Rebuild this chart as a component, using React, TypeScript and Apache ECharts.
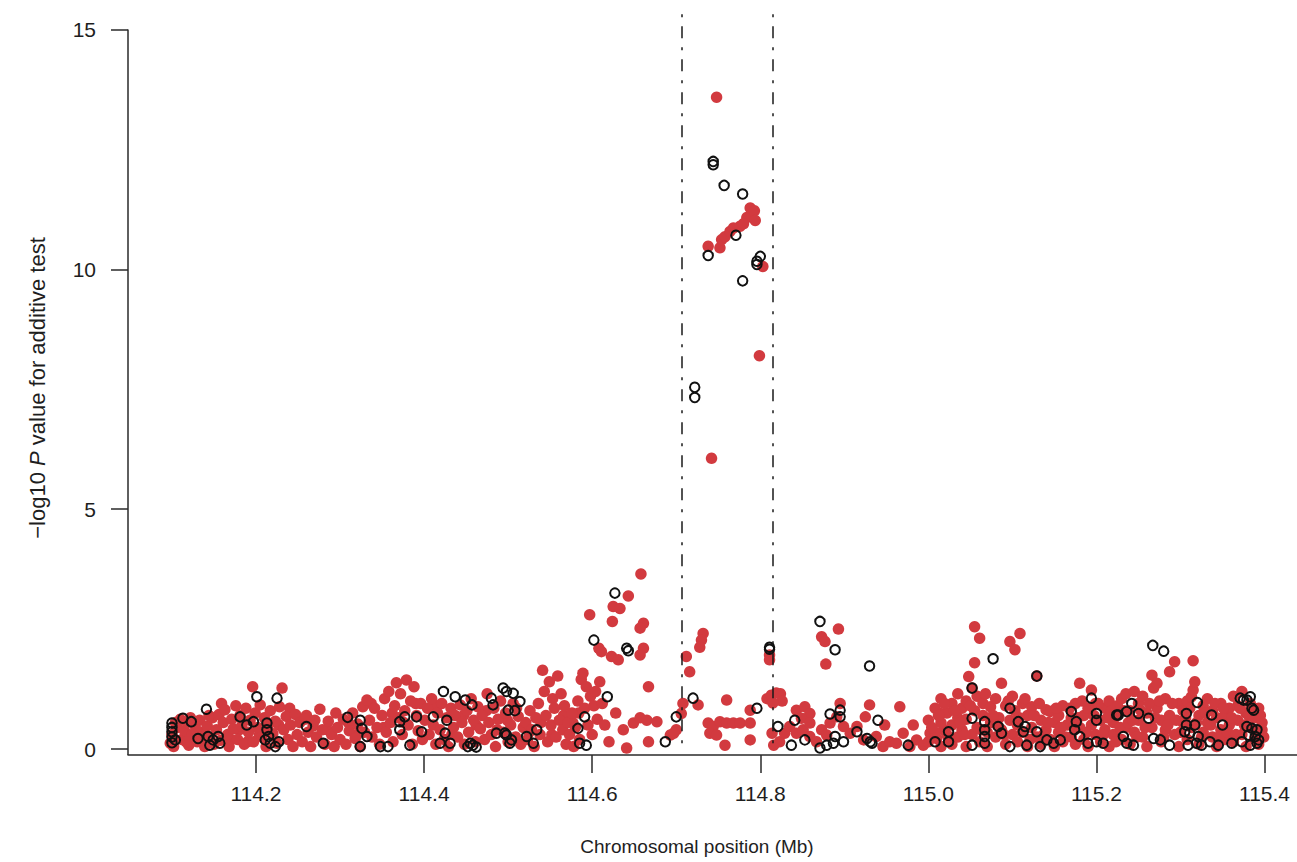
import React, { useEffect, useRef } from "react";
import * as echarts from "echarts";

const xTicks = [114.2, 114.4, 114.6, 114.8, 115.0, 115.2, 115.4];
const yTicks = [0, 5, 10, 15];
const regionBounds = [114.707, 114.815];

// Imputed SNPs (filled red)
const redPoints: [number, number][] = [
  [114.098,0.12],[114.100,0.30],[114.102,0.05],[114.106,0.45],[114.110,0.62],[114.112,0.20],[114.115,0.38],[114.118,0.55],[114.120,0.08],[114.124,0.30],[114.127,0.50],[114.130,0.15],[114.133,0.60],[114.136,0.35],[114.139,0.05],[114.142,0.48],[114.145,0.25],[114.148,0.65],[114.150,0.10],
  [114.104,0.55],[114.117,0.15],[114.122,0.65],[114.129,0.40],[114.135,0.20],[114.144,0.70],[114.159,0.95],[114.170,0.20],[114.180,0.40],[114.190,0.15],[114.204,0.30],[114.214,0.40],[114.227,0.50],[114.240,0.85],[114.260,0.70],[114.270,0.60],[114.285,0.40],[114.295,0.75],[114.310,0.55],[114.320,0.30],[114.337,0.95],[114.352,0.45],[114.362,0.75],[114.376,0.55],[114.390,0.95],[114.413,0.90],[114.433,0.30],[114.447,0.70],[114.462,0.50],[114.474,0.80],[114.487,0.40],[114.499,0.60],[114.510,0.85],[114.525,0.35],[114.539,0.55],[114.552,0.30],[114.566,0.70],[114.577,0.55],[114.584,0.75],
  [114.153,0.40],[114.156,0.72],[114.158,0.18],[114.161,0.55],[114.163,0.82],[114.166,0.30],[114.168,0.05],[114.171,0.62],[114.173,0.42],[114.176,0.90],[114.178,0.20],[114.181,0.70],[114.183,0.48],[114.186,0.10],[114.188,0.85],[114.191,0.35],[114.193,0.60],[114.196,1.30],[114.197,0.15],[114.199,0.75],[114.202,0.45],[114.205,0.92],[114.207,0.25],[114.210,0.65],[114.212,0.05],[114.215,0.52],[114.217,0.80],[114.220,0.32],[114.223,0.58],[114.225,0.12],[114.228,0.88],[114.231,1.27],[114.233,0.40],[114.236,0.68],[114.238,0.20],[114.241,0.50],[114.244,0.05],[114.247,0.72],[114.249,0.30],
  [114.252,0.55],[114.255,0.15],[114.258,0.62],[114.262,0.35],[114.265,0.05],[114.268,0.48],[114.272,0.25],[114.276,0.83],[114.279,0.40],[114.282,0.10],[114.286,0.58],[114.290,0.30],[114.293,0.05],[114.297,0.45],[114.300,0.20],[114.304,0.62],[114.307,0.10],[114.311,0.38],[114.315,0.75],[114.318,0.22],[114.321,0.52],[114.324,0.05],[114.327,0.88],[114.329,0.35],[114.332,1.02],
  [114.335,0.60],[114.338,0.25],[114.341,0.85],[114.344,0.45],[114.347,0.10],[114.350,0.70],[114.353,1.05],[114.355,0.35],[114.358,1.20],[114.360,0.55],[114.363,0.15],[114.365,0.90],[114.367,1.38],[114.370,0.65],[114.372,1.15],[114.374,0.30],[114.377,0.80],[114.379,1.44],[114.381,0.50],[114.384,1.00],[114.386,0.10],[114.388,1.30],[114.391,0.70],[114.393,0.38],[114.396,0.95],[114.398,0.20],
  [114.401,0.60],[114.404,0.85],[114.406,0.30],[114.409,1.05],[114.411,0.50],[114.414,0.10],[114.416,0.75],[114.419,0.40],[114.421,0.95],[114.424,0.20],[114.427,0.65],[114.429,0.05],[114.432,0.85],[114.435,0.45],[114.437,0.70],[114.440,0.25],[114.443,0.92],[114.445,0.55],[114.448,0.10],[114.451,0.80],[114.453,0.35],[114.456,1.05],[114.459,0.60],[114.461,0.15],[114.464,0.88],[114.467,0.42],[114.469,0.70],[114.472,0.20],[114.475,1.15],[114.477,0.55],[114.480,0.30],[114.483,0.85],[114.485,0.05],[114.488,0.62],[114.491,1.00],[114.494,0.35],[114.497,0.75],[114.500,0.15],[114.503,0.50],[114.506,0.95],[114.509,0.25],[114.512,0.68],[114.515,0.10],[114.518,0.45],
  [114.521,0.55],[114.523,0.20],[114.526,0.80],[114.528,0.40],[114.531,0.05],[114.533,0.65],[114.536,0.95],[114.538,0.30],[114.541,1.64],[114.543,1.20],[114.545,0.70],[114.547,0.15],[114.549,1.40],[114.551,0.50],[114.553,1.05],[114.555,0.85],[114.557,0.25],[114.559,1.52],[114.561,0.60],[114.563,1.15],[114.565,0.40],[114.567,0.90],[114.569,0.10],[114.571,0.55],[114.573,0.30],[114.576,0.75],[114.578,0.05],[114.580,0.45],[114.583,1.00],[114.585,0.20],[114.587,1.45],[114.589,1.58],[114.591,0.85],[114.593,1.30],[114.595,0.50],[114.597,2.80],[114.598,1.10],[114.600,0.30],[114.602,0.90],[114.604,1.20],[114.606,0.62],[114.608,2.10],[114.609,1.40],[114.611,2.03],
  [114.658,3.65],[114.643,3.19],[114.625,2.97],[114.633,2.93],[114.624,2.66],[114.661,2.62],[114.657,2.52],[114.661,2.10],[114.657,1.96],[114.623,1.93],[114.631,1.86],[114.667,1.30],
  [114.637,0.40],[114.649,0.54],[114.657,0.65],[114.665,0.60],[114.677,0.57],[114.667,0.15],[114.693,0.29],[114.700,0.40],[114.615,0.50],[114.620,0.15],[114.628,0.75],[114.612,0.95],[114.641,0.02],
  [114.712,1.93],[114.716,1.61],[114.708,0.95],[114.706,0.74],[114.697,0.33],[114.732,2.41],[114.730,2.27],[114.728,2.12],[114.726,0.92],[114.760,1.02],[114.788,0.81],[114.811,1.96],[114.811,1.86],
  [114.738,0.54],[114.744,0.47],[114.752,0.57],[114.760,0.54],[114.768,0.54],[114.776,0.54],[114.740,0.33],[114.748,0.29],[114.758,0.08],[114.788,0.54],[114.788,0.19],
  [114.808,1.05],[114.813,1.12],[114.819,1.17],[114.824,1.15],[114.826,1.00],[114.815,0.96],[114.814,0.33],[114.816,0.08],
  [114.742,6.06],[114.799,8.20],[114.803,10.06],[114.748,13.59],
  [114.784,11.08],[114.788,11.28],[114.793,11.22],[114.794,11.02],
  [114.738,10.48],[114.752,10.45],[114.754,10.62],[114.758,10.68],[114.764,10.79],[114.768,10.86],[114.776,10.90],[114.780,10.95],
  [114.893,2.50],[114.873,2.34],[114.877,2.24],[114.878,1.77],[114.930,0.92],[114.966,0.88],[114.895,0.95],[114.948,0.50],[114.982,0.50],[115.014,0.74],
  [114.823,0.15],[114.829,0.33],[114.835,0.47],[114.843,0.33],[114.851,0.40],[114.859,0.26],[114.867,0.15],[114.873,0.40],[114.879,0.29],[114.899,0.47],[114.907,0.33],[114.915,0.47],[114.923,0.19],[114.938,0.26],[114.946,0.05],[114.954,0.15],[114.962,0.12],[114.970,0.33],[114.978,0.05],[114.986,0.19],[114.994,0.08],[115.002,0.33],[115.010,0.22],[115.018,0.40],
  [114.843,0.81],[114.853,0.88],[114.859,0.74],[114.849,0.64],[114.859,0.54],[114.883,0.54],[114.891,0.67],[114.925,0.67],
  [115.000,0.60],[115.000,0.15],[115.008,0.85],[115.008,0.35],[115.015,0.05],[115.015,0.55],[115.015,1.05],[115.022,0.30],[115.022,0.75],[115.028,0.95],[115.028,0.10],[115.028,0.50],[115.035,0.65],[115.035,1.15],[115.035,0.25],[115.040,0.40],[115.040,0.85],[115.045,1.00],[115.045,0.05],[115.045,0.62],[115.048,1.51],[115.052,1.27],[115.052,0.30],[115.055,2.55],[115.055,1.80],[115.055,0.80],[115.058,0.45],[115.058,1.10],[115.061,2.31],[115.061,0.15],[115.065,0.70],[115.065,0.95],[115.070,0.35],[115.070,0.05],[115.074,0.88],[115.074,0.55],[115.080,1.05],[115.080,0.25],[115.084,0.65],[115.087,1.37],[115.087,0.40],[115.092,0.90],[115.092,0.10],[115.097,2.24],[115.097,0.60],[115.100,1.10],[115.100,0.30],[115.103,2.07],[115.103,0.80],[115.106,0.15],[115.106,0.50],[115.109,2.41],[115.112,0.95],[115.112,0.35],[115.118,0.70],[115.118,0.05],[115.123,0.45],[115.123,0.88],[115.129,1.52],[115.129,0.25],[115.134,0.60],[115.134,0.10],[115.140,0.82],[115.140,0.40],[115.145,0.78],[115.145,0.20],[115.150,0.55],[115.150,0.05],[115.155,0.35],[115.155,0.70],[115.160,0.90],[115.160,0.15],[115.165,0.50],[115.170,0.25],[115.170,0.65],[115.175,0.95],[115.175,0.10],[115.180,1.37],[115.180,0.45],[115.185,0.70],[115.185,0.20],[115.190,0.85],[115.190,0.05],[115.194,1.23],[115.194,0.50],[115.199,0.30],[115.199,0.95],
  [115.205,0.60],[115.205,0.15],[115.210,0.85],[115.210,0.40],[115.215,1.00],[115.215,0.05],[115.220,0.55],[115.220,0.30],[115.225,0.90],[115.225,0.70],[115.230,1.05],[115.230,0.20],[115.235,0.45],[115.235,1.15],[115.240,0.80],[115.240,0.10],[115.245,1.20],[115.245,0.35],[115.250,0.60],[115.250,0.95],[115.255,1.10],[115.255,0.25],[115.260,0.75],[115.260,0.05],[115.266,1.54],[115.266,0.45],[115.268,1.27],[115.272,1.37],[115.272,0.85],[115.277,0.60],[115.277,0.15],[115.282,1.05],[115.282,0.40],[115.287,1.61],[115.287,0.70],[115.293,1.82],[115.293,0.30],[115.298,0.95],[115.298,0.05],[115.303,0.55],[115.303,0.80],[115.308,1.00],[115.308,0.20],[115.313,1.09],[115.313,0.45],[115.315,1.23],[115.315,1.84],[115.317,1.40],[115.322,0.70],[115.322,0.10],[115.327,0.90],[115.327,0.35],[115.332,0.55],[115.332,1.05],[115.338,0.25],[115.338,0.80],[115.343,0.65],[115.343,0.05],[115.348,0.95],[115.348,0.40],[115.353,0.20],[115.353,0.70],[115.358,0.85],[115.358,0.50],[115.363,1.10],[115.363,0.15],[115.368,0.60],[115.368,0.90],[115.373,1.20],[115.373,0.30],[115.378,0.75],[115.378,0.05],[115.383,0.95],[115.383,0.45],[115.388,0.20],[115.388,0.65],[115.393,0.85],[115.393,0.10],[115.397,0.40],[115.397,0.55],
  [115.004,0.45],[115.012,0.70],[115.019,0.95],[115.025,0.20],[115.031,0.80],[115.038,0.55],[115.043,0.30],[115.050,0.90],[115.063,0.40],[115.068,1.15],[115.077,0.70],[115.082,0.50],[115.090,0.30],[115.095,1.00],[115.108,0.65],[115.115,1.05],[115.121,0.20],[115.126,0.70],[115.132,0.95],[115.137,0.30],[115.143,0.55],[115.152,0.85],[115.158,0.45],[115.163,0.25],[115.168,0.85],[115.173,0.45],[115.178,0.65],[115.183,1.00],[115.188,0.35],[115.197,0.70],[115.202,0.95],[115.208,0.30],[115.213,0.65],[115.218,0.80],[115.223,0.15],[115.228,0.45],[115.233,0.80],[115.238,0.55],[115.243,0.60],[115.248,0.25],[115.253,0.80],[115.258,0.45],[115.263,0.95],[115.270,0.65],[115.275,1.00],[115.280,0.25],[115.285,0.50],[115.290,0.95],[115.295,0.60],[115.300,0.35],[115.306,0.65],[115.311,0.85],[115.319,0.55],[115.325,0.25],[115.330,0.75],[115.336,0.50],[115.341,0.95],[115.346,0.25],[115.351,0.85],[115.356,0.35],[115.361,0.65],[115.366,0.30],[115.371,0.85],[115.376,0.50],[115.381,0.70],[115.386,0.85],[115.391,0.35],[115.395,0.70],[115.399,0.25]
];

// Genotyped SNPs (open black circles)
const blackPoints: [number, number][] = [
  [114.100,0.54],[114.100,0.45],[114.100,0.36],[114.100,0.25],[114.100,0.13],[114.104,0.19],[114.113,0.64],[114.123,0.57],[114.141,0.83],
  [114.131,0.22],[114.143,0.26],[114.149,0.19],[114.155,0.26],[114.145,0.08],[114.157,0.12],
  [114.181,0.67],[114.189,0.50],[114.197,0.57],[114.213,0.54],[114.213,0.40],[114.215,0.26],[114.211,0.19],[114.217,0.12],[114.227,0.15],[114.223,0.05],
  [114.201,1.09],[114.225,1.06],[114.260,0.47],[114.280,0.12],[114.309,0.66],
  [114.324,0.60],[114.326,0.43],[114.332,0.26],[114.324,0.05],[114.348,0.05],[114.357,0.05],[114.371,0.57],[114.371,0.40],
  [114.423,1.20],[114.437,1.09],[114.449,1.02],[114.457,0.92],[114.480,1.06],[114.482,0.92],[114.494,1.27],[114.498,1.20],[114.506,1.16],[114.514,0.99],[114.500,0.81],[114.508,0.80],[114.591,0.67],[114.583,0.43],[114.534,0.40],
  [114.627,3.25],[114.602,2.27],[114.641,2.10],[114.643,2.05],[114.618,1.09],
  [114.377,0.67],[114.391,0.67],[114.411,0.67],[114.427,0.60],[114.397,0.36],[114.425,0.33],[114.383,0.08],[114.419,0.12],[114.431,0.12],[114.455,0.12],[114.452,0.05],[114.458,0.08],[114.462,0.04],[114.486,0.33],[114.498,0.29],[114.502,0.12],[114.522,0.26],[114.530,0.12],[114.585,0.12],[114.593,0.08],[114.496,0.33],[114.504,0.19],
  [114.720,1.06],[114.700,0.67],[114.796,0.85],[114.811,2.12],[114.811,2.08],[114.821,0.47],[114.871,2.66],[114.889,2.07],[114.930,1.73],[114.841,0.60],[114.883,0.73],[114.895,0.81],[114.895,0.67],[114.940,0.60],[114.687,0.15],
  [114.837,0.08],[114.853,0.19],[114.871,0.02],[114.879,0.08],[114.887,0.12],[114.889,0.26],[114.899,0.15],[114.915,0.36],[114.927,0.22],[114.931,0.15],[114.933,0.12],[114.976,0.08],[115.008,0.15],[115.024,0.36],[115.024,0.15],
  [114.744,12.25],[114.744,12.18],[114.757,11.75],[114.779,11.57],[114.771,10.71],[114.738,10.29],[114.800,10.27],[114.796,10.17],[114.796,10.10],[114.779,9.76],[114.722,7.54],[114.722,7.33],
  [115.077,1.88],[115.129,1.52],[115.052,1.27],[115.194,1.06],[115.097,0.85],[115.170,0.78],[115.200,0.74],[115.200,0.60],[115.224,0.71],
  [115.052,0.64],[115.067,0.57],[115.083,0.47],[115.087,0.33],[115.107,0.57],[115.115,0.47],[115.113,0.36],[115.129,0.36],[115.176,0.57],[115.174,0.40],[115.180,0.26],[115.067,0.40],[115.067,0.26],[115.067,0.12],[115.097,0.05],[115.117,0.08],[115.133,0.05],[115.141,0.19],[115.149,0.12],[115.157,0.19],[115.190,0.12],[115.200,0.15],[115.208,0.12],[115.052,0.08],
  [115.267,2.16],[115.280,2.04],[115.320,0.97],[115.371,1.06],[115.379,1.02],[115.385,0.85],[115.337,0.71],[115.242,0.95],[115.226,0.71],[115.236,0.78],[115.250,0.74],[115.262,0.64],[115.350,0.50],
  [115.307,0.74],[115.307,0.50],[115.317,0.50],[115.305,0.36],[115.311,0.33],[115.321,0.26],
  [115.379,0.47],[115.385,0.43],[115.391,0.40],[115.381,0.29],[115.389,0.26],[115.393,0.19],[115.375,1.02],[115.383,1.09],[115.387,0.81],
  [115.232,0.26],[115.236,0.12],[115.244,0.08],[115.268,0.22],[115.276,0.19],[115.287,0.08],[115.309,0.08],[115.319,0.12],[115.325,0.08],[115.335,0.15],[115.345,0.08],[115.361,0.12],[115.373,0.15],[115.383,0.08],[115.391,0.12]
];

const X_MIN = 114.0477;
const X_MAX = 115.4386;
const Y_MIN = -0.125;
const Y_MAX = 15.407;
const FONT = "'Liberation Sans', Arial, Helvetica, sans-serif";
const TEXT = "#1e1e1e";
const AXIS = "#2a2a2a";

export default function App() {
  const ref = useRef<HTMLDivElement>(null);
  useEffect(() => {
    if (!ref.current) return;
    const chart = echarts.init(ref.current, undefined, { renderer: "svg" });
    const dashStyle = { color: "#1a1a1a", width: 1.5, type: [3, 9, 12, 9] as number[] };
    chart.setOption({
      animation: false,
      backgroundColor: "#ffffff",
      grid: { left: 128, right: 0, top: 10, bottom: 107, containLabel: false, outerBoundsMode: "none" },
      xAxis: {
        type: "value",
        min: X_MIN,
        max: X_MAX,
        axisLine: { show: true, onZero: false, lineStyle: { color: AXIS, width: 1.5 } },
        axisTick: { show: true, length: 18, customValues: xTicks, lineStyle: { color: AXIS, width: 1.5 } },
        axisLabel: {
          customValues: xTicks,
          formatter: (v: number) => v.toFixed(1),
          margin: 28,
          fontSize: 21,
          fontFamily: FONT,
          color: TEXT,
        },
        splitLine: { show: false },
      },
      yAxis: {
        type: "value",
        min: Y_MIN,
        max: Y_MAX,
        axisLine: { show: false },
        axisTick: { show: true, length: 17, customValues: yTicks, lineStyle: { color: AXIS, width: 1.5 } },
        axisLabel: {
          customValues: yTicks,
          formatter: (v: number) => String(Math.round(v)),
          margin: 32,
          fontSize: 21,
          fontFamily: FONT,
          color: TEXT,
        },
        splitLine: { show: false },
      },
      graphic: [
        {
          type: "text",
          x: 37,
          y: 388,
          rotation: Math.PI / 2,
          style: {
            text: "−log10 {i|P} value for additive test",
            rich: { i: { fontStyle: "italic", fontSize: 22, fontFamily: FONT, fill: TEXT } },
            fontSize: 22,
            fontFamily: FONT,
            fill: TEXT,
            align: "center",
            verticalAlign: "middle",
          },
        },
        {
          type: "text",
          x: 697,
          y: 846,
          style: {
            text: "Chromosomal position (Mb)",
            fontSize: 19,
            fontFamily: FONT,
            fill: TEXT,
            align: "center",
            verticalAlign: "middle",
          },
        },
      ],
      series: [
        {
          type: "scatter",
          data: [],
          clip: false,
          silent: true,
          markLine: {
            silent: true,
            symbol: ["none", "none"],
            label: { show: false },
            lineStyle: dashStyle,
            data: [
              [{ coord: [regionBounds[0], 0.12] }, { coord: [regionBounds[0], Y_MAX] }],
              [{ coord: [regionBounds[1], 0.12] }, { coord: [regionBounds[1], Y_MAX] }],
              [
                { coord: [X_MIN, Y_MIN], lineStyle: { color: AXIS, width: 1.5, type: "solid" } },
                { coord: [X_MIN, 15] },
              ],
            ],
          },
        },
        {
          type: "scatter",
          data: redPoints,
          symbol: "circle",
          symbolSize: 11.5,
          itemStyle: { color: "#d23a3f", opacity: 1 },
          silent: true,
          z: 2,
        },
        {
          type: "scatter",
          data: blackPoints,
          symbol: "circle",
          symbolSize: 9.5,
          itemStyle: { color: "rgba(0,0,0,0)", borderColor: "#111111", borderWidth: 2, opacity: 1 },
          silent: true,
          z: 3,
        },
      ],
    });
    return () => chart.dispose();
  }, []);
  return (
    <div
      ref={ref}
      style={{ position: "fixed", left: 0, top: 0, width: 1297, height: 862, background: "#fff" }}
    />
  );
}
